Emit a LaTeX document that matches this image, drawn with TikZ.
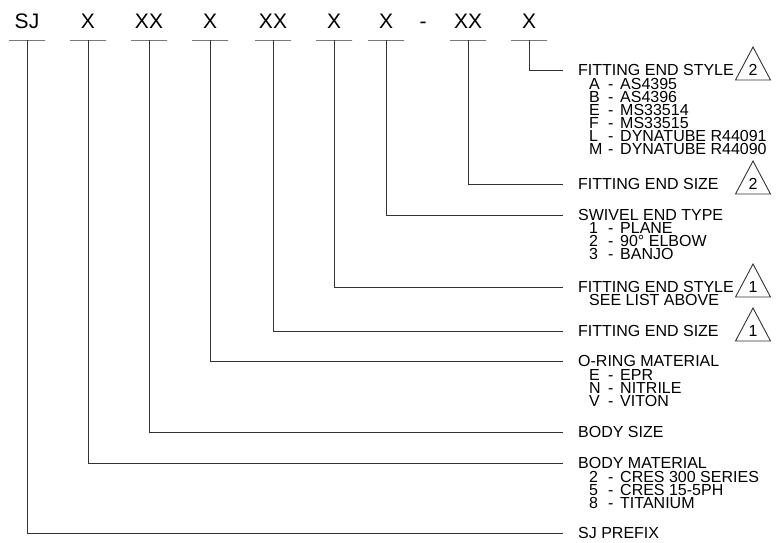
\documentclass[tikz,border=0pt]{standalone}
\usepackage{fontspec}
\setmainfont{Liberation Sans}
\newcommand\coderow[3]{\makebox[19pt][l]{#1}\makebox[12pt][l]{#2}#3}
\begin{document}
\begin{tikzpicture}[x=1pt,y=-1pt,
  ln/.style={line width=0.9pt, draw=black!80},
  code/.style={font=\fontsize{21}{21}\selectfont, inner sep=0pt, text height=15pt, text depth=0pt},
  uline/.style={draw=black!80, line width=0.9pt, minimum width=36pt, minimum height=0pt, inner sep=0pt, outer sep=0pt},
  ttl/.style={font=\fontsize{16}{16}\selectfont, anchor=west, inner sep=0pt, text height=11.4pt, text depth=0pt},
  itm/.style={ttl},
  warn/.pic={\draw[ln] (-17.5,10) -- (0,-23) -- (17.5,10) -- cycle;
             \node[ttl,anchor=center] at (0,0) {#1};}
]
\useasboundingbox (0,0) rectangle (778,542);
% code letters
\node[code] (c0) at (27,21) {SJ};
\node[code] (c1) at (88,21) {X};
\node[code] (c2) at (149,21) {XX};
\node[code] (c3) at (210,21) {X};
\node[code] (c4) at (273,21) {XX};
\node[code] (c5) at (334,21) {X};
\node[code] (c6) at (386,21) {X};
\node[code] (cd) at (423,21) {-};
\node[code] (c7) at (468,21) {XX};
\node[code] (c8) at (529,21) {X};
% underlines
\node[uline] (u0) at (27,40) {};
\node[uline] (u1) at (88,40) {};
\node[uline] (u2) at (149,40) {};
\node[uline] (u3) at (210,40) {};
\node[uline] (u4) at (273,40) {};
\node[uline] (u5) at (334,40) {};
\node[uline] (u6) at (386,40) {};
\node[uline] (u7) at (468,40) {};
\node[uline] (u8) at (529,40) {};
% titles
\node[ttl] (t8) at (578,70) {FITTING END STYLE};
\node[ttl] (t7) at (578,184) {FITTING END SIZE};
\node[ttl] (t6) at (578,215) {SWIVEL END TYPE};
\node[ttl] (t5) at (578,287) {FITTING END STYLE};
\node[ttl] (t4) at (578,331) {FITTING END SIZE};
\node[ttl] (t3) at (578,361) {O-RING MATERIAL};
\node[ttl] (t2) at (578,432) {BODY SIZE};
\node[ttl] (t1) at (578,463) {BODY MATERIAL};
\node[ttl] (t0) at (578,533) {SJ PREFIX};
% connectors
\foreach \i in {0,...,8}{
  \draw[ln] (u\i.south) |- ([xshift=-15pt]t\i.west);
}
% warning triangles
\pic at (753,70) {warn=2};
\pic at (753,184) {warn=2};
\pic at (753,287) {warn=1};
\pic at (753,331) {warn=1};
% lists
\node[itm] (a1) at (589,84) {\coderow{A}{-}{AS4395}};
\node[itm] (a2) at (589,97) {\coderow{B}{-}{AS4396}};
\node[itm] (a3) at (589,110) {\coderow{E}{-}{MS33514}};
\node[itm] (a4) at (589,123) {\coderow{F}{-}{MS33515}};
\node[itm] (a5) at (589,136) {\coderow{L}{-}{DYNATUBE R44091}};
\node[itm] (a6) at (589,149) {\coderow{M}{-}{DYNATUBE R44090}};
\node[itm] (b1) at (589,228) {\coderow{1}{-}{PLANE}};
\node[itm] (b2) at (589,241) {\coderow{2}{-}{90° ELBOW}};
\node[itm] (b3) at (589,254) {\coderow{3}{-}{BANJO}};
\node[itm] (sl) at (589,300) {SEE LIST ABOVE};
\node[itm] (o1) at (589,375) {\coderow{E}{-}{EPR}};
\node[itm] (o2) at (589,388) {\coderow{N}{-}{NITRILE}};
\node[itm] (o3) at (589,401) {\coderow{V}{-}{VITON}};
\node[itm] (m1) at (589,477) {\coderow{2}{-}{CRES 300 SERIES}};
\node[itm] (m2) at (589,490) {\coderow{5}{-}{CRES 15-5PH}};
\node[itm] (m3) at (589,503) {\coderow{8}{-}{TITANIUM}};
\end{tikzpicture}
\end{document}
